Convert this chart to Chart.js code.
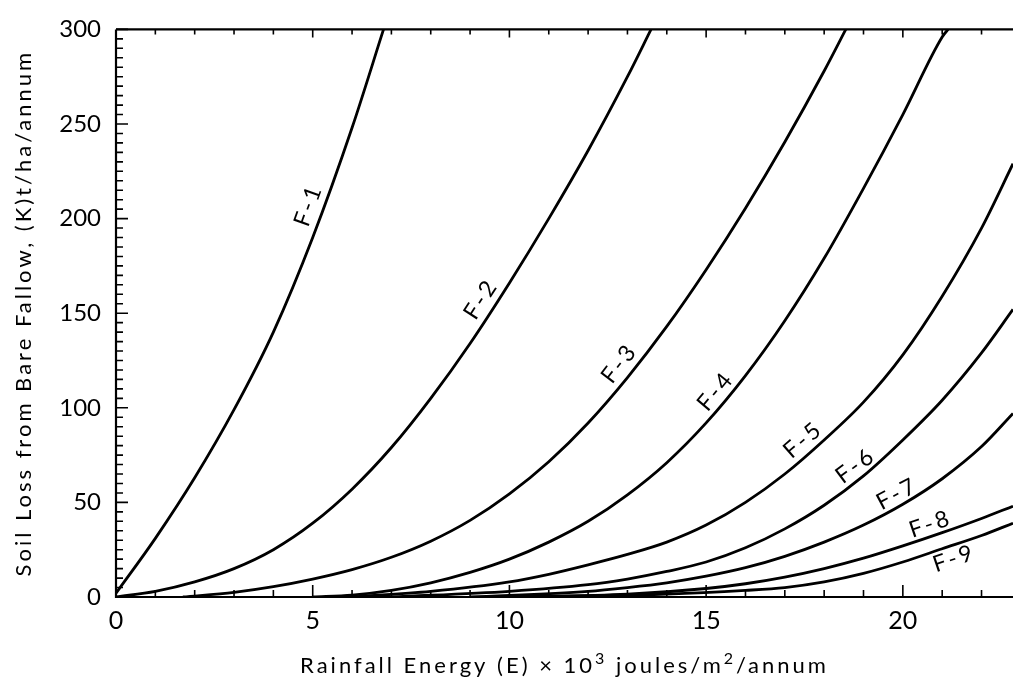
<!DOCTYPE html>
<html>
<head>
<meta charset="utf-8">
<script src="https://cdn.jsdelivr.net/npm/chart.js@4.4.1/dist/chart.umd.min.js"></script>
<style>
  body { margin: 0; background: #fff; }
</style>
</head>
<body>
<canvas id="myChart" width="1013" height="681"></canvas>
<script>
// curve names and values: E (x10^3 J/m2/yr) -> K (t/ha/yr)
const curveNames = ["F-1", "F-2", "F-3", "F-4", "F-5", "F-6", "F-7", "F-8", "F-9"];

const f1E = [0, 1, 2, 3, 4, 5, 6, 6.8];
const f1K = [2, 31, 63, 99, 140, 190, 248, 300];

const f2E = [0, 1, 2, 3, 4, 5, 6, 7, 8, 9, 10, 11, 12, 13, 13.6];
const f2K = [0, 3, 8, 15, 25, 39, 57, 79, 105, 134, 166, 200, 236, 275, 300];

const f3E = [1.7, 3, 4, 5, 6, 7, 8, 9, 10, 11, 12, 13, 14, 15, 16, 17, 18, 18.55];
const f3K = [0, 2.5, 5.5, 9.5, 14.5, 21, 29.5, 40.5, 54.5, 71.5, 92, 116, 143, 173, 205.5, 240.5, 278, 300];

const f4E = [5, 6, 7, 8, 9, 10, 11, 12, 13, 14, 15, 16, 17, 18, 19, 20, 21, 21.15];
const f4K = [0, 1, 3.5, 7.5, 13, 20, 29, 40, 54, 71, 92, 117, 146, 179, 216, 255, 296, 300];

const f5E = [6, 8, 10, 11, 12, 13, 14, 15, 16, 17, 18, 19, 20, 21, 22, 22.8];
const f5K = [0, 3, 8, 12, 17, 22.5, 29, 38, 50, 65, 83, 103, 128, 159, 195, 229];

const f6E = [7, 10, 12, 13, 14, 15, 16, 17, 18, 19, 20, 21, 22, 22.8];
const f6K = [0, 3, 6.5, 9.5, 13.5, 18.5, 26, 36, 48.5, 64, 83, 104, 129, 152];

const f7E = [9, 12, 13, 14, 15, 16, 17, 18, 19, 20, 21, 22, 22.8];
const f7K = [0, 3, 5, 7.5, 11, 15.5, 21.5, 29, 38, 49, 62.5, 79.5, 97];

const f8E = [10, 13, 15, 16, 17, 18, 19, 20, 21, 22, 22.8];
const f8K = [0, 1.5, 4.5, 7, 10.5, 15, 20.5, 27, 34, 41.5, 48];

const f9E = [10, 14, 16, 17, 18, 19, 20, 21, 22, 22.8];
const f9K = [0, 1.5, 3.5, 5, 8, 12.5, 18.5, 25.5, 32.5, 39];

const xTicks = [0, 5, 10, 15, 20];
const yTicks = [0, 50, 100, 150, 200, 250, 300];

// x title split so the powers can be raised
const xTitleParts = [["Rainfall Energy (E) \u00d7 10", false], ["3", true], [" joules/m", false], ["2", true], ["/annum", false]];
const yTitle = "Soil Loss from Bare Fallow, (K)t/ha/annum";

const allE = [f1E, f2E, f3E, f4E, f5E, f6E, f7E, f8E, f9E];
const allK = [f1K, f2K, f3K, f4K, f5K, f6K, f7K, f8K, f9K];

// where each name sits along its curve (E), on which side and how far off
const labelAtE = [5.25, 9.6, 13.1, 15.5, 17.7, 19.0, 20.0, 20.8, 21.2];
const labelSide = [1, 1, 1, 1, 1, 1, 1, 1, -1];
const labelGap = [15, 15, 15, 13, 14, 13, 12, 12, 13];

const FONT = "Lato, 'DejaVu Sans', sans-serif";

const datasets = curveNames.map((name, i) => ({
  label: name,
  data: allE[i].map((e, j) => ({ x: e, y: allK[i][j] })),
  borderColor: "#000",
  borderWidth: 2.8,
  pointRadius: 0,
  fill: false,
  cubicInterpolationMode: "monotone",
}));

const frame = {
  id: "frame",
  afterDraw(chart) {
    const ctx = chart.ctx;
    const a = chart.chartArea;
    const xs = chart.scales.x;
    const ys = chart.scales.y;
    ctx.save();
    ctx.strokeStyle = "#000";
    ctx.lineWidth = 2.2;
    ctx.beginPath();
    ctx.moveTo(a.left, a.top);
    ctx.lineTo(a.right, a.top);
    ctx.moveTo(a.left, a.top);
    ctx.lineTo(a.left, a.bottom);
    ctx.lineTo(a.right, a.bottom);
    ctx.stroke();

    ctx.lineWidth = 1.6;
    ctx.beginPath();
    for (let v = 0; v <= 300; v += 5) {
      const y = ys.getPixelForValue(v);
      const len = v % 50 === 0 ? 12 : 7;
      ctx.moveTo(a.left, y);
      ctx.lineTo(a.left + len, y);
    }
    for (let v = 1; v <= 22; v++) {
      const x = xs.getPixelForValue(v);
      ctx.moveTo(x, a.bottom);
      ctx.lineTo(x, a.bottom - (v % 5 === 0 ? 12 : 7));
      ctx.moveTo(x, a.top);
      ctx.lineTo(x, a.top + (v % 5 === 0 ? 8 : 5));
    }
    ctx.stroke();

    // axis titles (spaced out like the original lettering)
    ctx.fillStyle = "#000";
    ctx.textBaseline = "alphabetic";
    ctx.textAlign = "left";
    ctx.letterSpacing = "3px";
    const big = "22px " + FONT;
    const small = "16px " + FONT;
    let total = 0;
    xTitleParts.forEach(([t, sup]) => {
      ctx.font = sup ? small : big;
      total += ctx.measureText(t).width;
    });
    let x = (a.left + a.right) / 2 - total / 2;
    xTitleParts.forEach(([t, sup]) => {
      ctx.font = sup ? small : big;
      ctx.fillText(t, x, sup ? 664 : 673);
      x += ctx.measureText(t).width;
    });

    ctx.font = big;
    ctx.textAlign = "center";
    ctx.textBaseline = "middle";
    ctx.translate(24, (a.top + a.bottom) / 2);
    ctx.rotate(-Math.PI / 2);
    ctx.fillText(yTitle, 0, 0);
    ctx.restore();
  },
};

const curveLabels = {
  id: "curveLabels",
  afterDatasetsDraw(chart) {
    const ctx = chart.ctx;
    const xs = chart.scales.x;
    const ys = chart.scales.y;
    ctx.save();
    ctx.fillStyle = "#000";
    ctx.font = "23px " + FONT;
    ctx.letterSpacing = "3px";
    ctx.textAlign = "center";
    ctx.textBaseline = "middle";
    curveNames.forEach((name, i) => {
      const es = allE[i];
      const ks = allK[i];
      const e = labelAtE[i];
      let j = 0;
      while (j < es.length - 2 && es[j + 1] < e) j++;
      const t = (e - es[j]) / (es[j + 1] - es[j]);
      const k = ks[j] + t * (ks[j + 1] - ks[j]);
      const px = xs.getPixelForValue(e);
      const py = ys.getPixelForValue(k);
      const dx = xs.getPixelForValue(es[j + 1]) - xs.getPixelForValue(es[j]);
      const dy = ys.getPixelForValue(ks[j + 1]) - ys.getPixelForValue(ks[j]);
      const ang = Math.atan2(dy, dx);
      const off = labelGap[i] * labelSide[i];
      const cx = px + off * Math.sin(ang);
      const cy = py - off * Math.cos(ang);
      ctx.save();
      ctx.translate(cx, cy);
      ctx.rotate(ang);
      ctx.fillText(name, 0, 0);
      ctx.restore();
    });
    ctx.restore();
  },
};

const config = {
  type: "line",
  data: { datasets: datasets },
  options: {
    responsive: false,
    animation: false,
    layout: { padding: { top: 22, right: 0, left: 0, bottom: 0 } },
    plugins: { legend: { display: false }, tooltip: { enabled: false } },
    scales: {
      x: {
        type: "linear",
        min: 0,
        max: 22.8,
        grid: { display: false, drawTicks: false },
        border: { display: false },
        afterBuildTicks: (s) => { s.ticks = xTicks.map((v) => ({ value: v })); },
        afterFit: (s) => { s.height = 84; },
        ticks: { color: "#000", font: { family: FONT, size: 25 }, padding: 9, maxRotation: 0 },
      },
      y: {
        min: 0,
        max: 300,
        grid: { display: false, drawTicks: false },
        border: { display: false },
        afterBuildTicks: (s) => { s.ticks = yTicks.map((v) => ({ value: v })); },
        afterFit: (s) => { s.width = 116; },
        ticks: { color: "#000", font: { family: FONT, size: 24 }, padding: 15 },
      },
    },
  },
  plugins: [frame, curveLabels],
};

const myChart = new Chart(document.getElementById("myChart"), config);
</script>
</body>
</html>
